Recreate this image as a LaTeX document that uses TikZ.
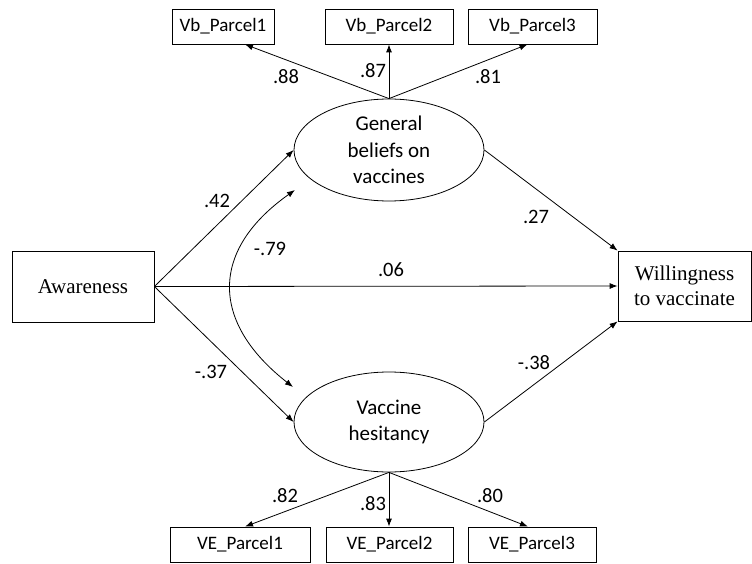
\documentclass[tikz,border=0pt]{standalone}
\usepackage{fontspec}
\setmainfont{Liberation Serif}
\setsansfont{Carlito}
\usetikzlibrary{shapes,arrows.meta}

\tikzset{
  obs/.style={draw, rectangle, inner sep=0pt, align=center, line width=0.8pt, font=\fontsize{21}{25}\selectfont},
  parcel/.style={draw, rectangle, inner sep=0pt, minimum height=35pt, line width=0.8pt, font=\sffamily\fontsize{19}{22}\selectfont},
  latent/.style={draw, ellipse, inner sep=0pt, minimum width=190pt, line width=0.8pt},
  latent text/.style={inner sep=0pt, align=center, font=\sffamily\fontsize{21}{26.5}\selectfont},
  wt/.style={inner sep=0pt, font=\sffamily\fontsize{20.5}{24}\selectfont},
  arr/.style={-{Latex[length=8pt,width=6pt]}, line width=0.8pt},
  cov/.style={{Latex[length=8pt,width=6pt]}-{Latex[length=8pt,width=6pt]}, line width=0.8pt}
}

\begin{document}
\begin{tikzpicture}[x=1pt,y=-1pt]
\useasboundingbox (0,0) rectangle (752,564);
% observed variables
\node[obs, minimum width=142pt, minimum height=71pt] (aw) at (83,286.5) {Awareness};
\node[obs, minimum width=133pt, minimum height=70pt] (will) at (684.5,286) {Willingness\\to vaccinate};
% latent variables
\node[latent, minimum height=102pt, label={[latent text]center:General\\beliefs on\\vaccines}] (gen) at (389,150) {};
\node[latent, minimum height=100pt, label={[latent text]center:Vaccine\\hesitancy}] (hes) at (389,422) {};
% parcels
\node[parcel, minimum width=102pt] (vb1) at (223,26.5) {Vb\_Parcel1};
\node[parcel, minimum width=128pt] (vb2) at (389,26.5) {Vb\_Parcel2};
\node[parcel, minimum width=129pt] (vb3) at (532.5,26.5) {Vb\_Parcel3};
\node[parcel, minimum width=140pt] (ve1) at (240,544.5) {VE\_Parcel1};
\node[parcel, minimum width=127pt] (ve2) at (389.5,544.5) {VE\_Parcel2};
\node[parcel, minimum width=128pt] (ve3) at (532,544.5) {VE\_Parcel3};
% loadings
\draw[arr] (gen.north) -- ([xshift=22pt]vb1.south);
\draw[arr] (gen.north) -- (gen.north |- vb2.south);
\draw[arr] (gen.north) -- ([xshift=-5pt]vb3.south);
\draw[arr] (hes.south) -- ([xshift=5pt]ve1.north);
\draw[arr] (hes.south) -- (hes.south |- ve2.north);
\draw[arr] (hes.south) -- ([xshift=-4pt]ve3.north);
% structural paths
\draw[arr] (aw.east) -- (gen.west);
\draw[arr] (aw.east) -- (hes.west);
\draw[arr] (aw.east) -- (will.west);
\draw[arr] (gen.east) -- (will.north west);
\draw[arr] (hes.east) -- (will.south west);
% covariance
\coordinate (c1) at (295,190);
\coordinate (c2) at (293,387);
\draw[cov] (c1) .. controls (210,250) and (210,322) .. (c2);
% estimates
\node[wt] (l88) at (286,77) {.88};
\node[wt] (l87) at (373,71) {.87};
\node[wt] (l81) at (488,77) {.81};
\node[wt] (l42) at (217,201) {.42};
\node[wt] (l79) at (270,249) {-.79};
\node[wt] (l06) at (391,270) {.06};
\node[wt] (l37) at (211,372) {-.37};
\node[wt] (l27) at (536,217) {.27};
\node[wt] (l38) at (534,363) {-.38};
\node[wt] (l82) at (285,496) {.82};
\node[wt] (l83) at (373,504) {.83};
\node[wt] (l80) at (490,496) {.80};
\end{tikzpicture}
\end{document}
